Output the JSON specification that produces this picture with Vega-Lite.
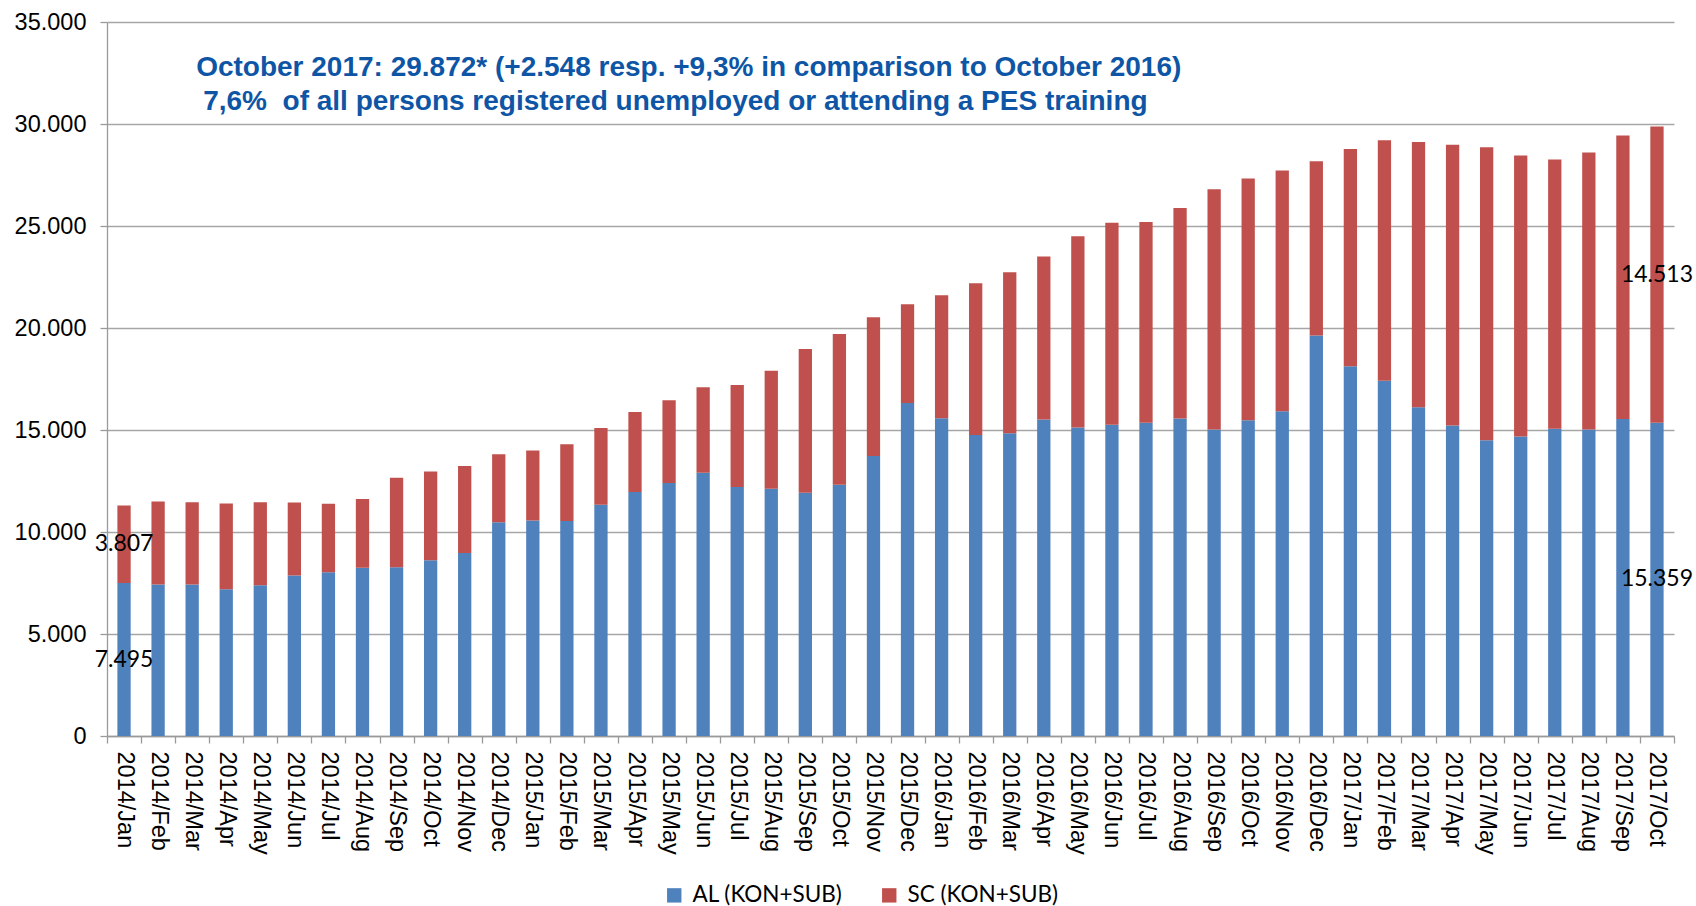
{
  "$schema": "https://vega.github.io/schema/vega-lite/v6.json",
  "width": 1567,
  "height": 714,
  "autosize": {"type": "none"},
  "padding": {"left": 107, "top": 22, "right": 22, "bottom": 170},
  "background": "white",
  "config": {
    "locale": {"number": {"decimal": ",", "thousands": ".", "grouping": [3], "currency": ["", " €"]}},
    "view": {"stroke": null},
    "axis": {
      "labelFont": "Liberation Sans",
      "labelFontSize": 23.5,
      "labelColor": "black",
      "domainColor": "#9a9a9a",
      "tickColor": "#9a9a9a",
      "gridColor": "#a6a6a6",
      "domainWidth": 1.3,
      "tickWidth": 1.3,
      "gridWidth": 1.3,
      "tickSize": 7,
      "title": null
    }
  },
  "data": {"values": [
    {"month": "2014/Jan", "series": "AL (KON+SUB)", "value": 7495}, {"month": "2014/Jan", "series": "SC (KON+SUB)", "value": 3807},
    {"month": "2014/Feb", "series": "AL (KON+SUB)", "value": 7430}, {"month": "2014/Feb", "series": "SC (KON+SUB)", "value": 4070},
    {"month": "2014/Mar", "series": "AL (KON+SUB)", "value": 7430}, {"month": "2014/Mar", "series": "SC (KON+SUB)", "value": 4030},
    {"month": "2014/Apr", "series": "AL (KON+SUB)", "value": 7190}, {"month": "2014/Apr", "series": "SC (KON+SUB)", "value": 4210},
    {"month": "2014/May", "series": "AL (KON+SUB)", "value": 7390}, {"month": "2014/May", "series": "SC (KON+SUB)", "value": 4070},
    {"month": "2014/Jun", "series": "AL (KON+SUB)", "value": 7870}, {"month": "2014/Jun", "series": "SC (KON+SUB)", "value": 3570},
    {"month": "2014/Jul", "series": "AL (KON+SUB)", "value": 8030}, {"month": "2014/Jul", "series": "SC (KON+SUB)", "value": 3350},
    {"month": "2014/Aug", "series": "AL (KON+SUB)", "value": 8250}, {"month": "2014/Aug", "series": "SC (KON+SUB)", "value": 3370},
    {"month": "2014/Sep", "series": "AL (KON+SUB)", "value": 8270}, {"month": "2014/Sep", "series": "SC (KON+SUB)", "value": 4390},
    {"month": "2014/Oct", "series": "AL (KON+SUB)", "value": 8610}, {"month": "2014/Oct", "series": "SC (KON+SUB)", "value": 4350},
    {"month": "2014/Nov", "series": "AL (KON+SUB)", "value": 8970}, {"month": "2014/Nov", "series": "SC (KON+SUB)", "value": 4270},
    {"month": "2014/Dec", "series": "AL (KON+SUB)", "value": 10480}, {"month": "2014/Dec", "series": "SC (KON+SUB)", "value": 3330},
    {"month": "2015/Jan", "series": "AL (KON+SUB)", "value": 10560}, {"month": "2015/Jan", "series": "SC (KON+SUB)", "value": 3440},
    {"month": "2015/Feb", "series": "AL (KON+SUB)", "value": 10540}, {"month": "2015/Feb", "series": "SC (KON+SUB)", "value": 3760},
    {"month": "2015/Mar", "series": "AL (KON+SUB)", "value": 11340}, {"month": "2015/Mar", "series": "SC (KON+SUB)", "value": 3760},
    {"month": "2015/Apr", "series": "AL (KON+SUB)", "value": 11960}, {"month": "2015/Apr", "series": "SC (KON+SUB)", "value": 3920},
    {"month": "2015/May", "series": "AL (KON+SUB)", "value": 12400}, {"month": "2015/May", "series": "SC (KON+SUB)", "value": 4060},
    {"month": "2015/Jun", "series": "AL (KON+SUB)", "value": 12900}, {"month": "2015/Jun", "series": "SC (KON+SUB)", "value": 4190},
    {"month": "2015/Jul", "series": "AL (KON+SUB)", "value": 12200}, {"month": "2015/Jul", "series": "SC (KON+SUB)", "value": 5010},
    {"month": "2015/Aug", "series": "AL (KON+SUB)", "value": 12120}, {"month": "2015/Aug", "series": "SC (KON+SUB)", "value": 5790},
    {"month": "2015/Sep", "series": "AL (KON+SUB)", "value": 11920}, {"month": "2015/Sep", "series": "SC (KON+SUB)", "value": 7050},
    {"month": "2015/Oct", "series": "AL (KON+SUB)", "value": 12320}, {"month": "2015/Oct", "series": "SC (KON+SUB)", "value": 7390},
    {"month": "2015/Nov", "series": "AL (KON+SUB)", "value": 13720}, {"month": "2015/Nov", "series": "SC (KON+SUB)", "value": 6810},
    {"month": "2015/Dec", "series": "AL (KON+SUB)", "value": 16320}, {"month": "2015/Dec", "series": "SC (KON+SUB)", "value": 4850},
    {"month": "2016/Jan", "series": "AL (KON+SUB)", "value": 15580}, {"month": "2016/Jan", "series": "SC (KON+SUB)", "value": 6030},
    {"month": "2016/Feb", "series": "AL (KON+SUB)", "value": 14760}, {"month": "2016/Feb", "series": "SC (KON+SUB)", "value": 7430},
    {"month": "2016/Mar", "series": "AL (KON+SUB)", "value": 14840}, {"month": "2016/Mar", "series": "SC (KON+SUB)", "value": 7890},
    {"month": "2016/Apr", "series": "AL (KON+SUB)", "value": 15520}, {"month": "2016/Apr", "series": "SC (KON+SUB)", "value": 7990},
    {"month": "2016/May", "series": "AL (KON+SUB)", "value": 15120}, {"month": "2016/May", "series": "SC (KON+SUB)", "value": 9380},
    {"month": "2016/Jun", "series": "AL (KON+SUB)", "value": 15260}, {"month": "2016/Jun", "series": "SC (KON+SUB)", "value": 9900},
    {"month": "2016/Jul", "series": "AL (KON+SUB)", "value": 15360}, {"month": "2016/Jul", "series": "SC (KON+SUB)", "value": 9840},
    {"month": "2016/Aug", "series": "AL (KON+SUB)", "value": 15560}, {"month": "2016/Aug", "series": "SC (KON+SUB)", "value": 10320},
    {"month": "2016/Sep", "series": "AL (KON+SUB)", "value": 15020}, {"month": "2016/Sep", "series": "SC (KON+SUB)", "value": 11780},
    {"month": "2016/Oct", "series": "AL (KON+SUB)", "value": 15480}, {"month": "2016/Oct", "series": "SC (KON+SUB)", "value": 11844},
    {"month": "2016/Nov", "series": "AL (KON+SUB)", "value": 15920}, {"month": "2016/Nov", "series": "SC (KON+SUB)", "value": 11800},
    {"month": "2016/Dec", "series": "AL (KON+SUB)", "value": 19630}, {"month": "2016/Dec", "series": "SC (KON+SUB)", "value": 8550},
    {"month": "2017/Jan", "series": "AL (KON+SUB)", "value": 18130}, {"month": "2017/Jan", "series": "SC (KON+SUB)", "value": 10650},
    {"month": "2017/Feb", "series": "AL (KON+SUB)", "value": 17410}, {"month": "2017/Feb", "series": "SC (KON+SUB)", "value": 11790},
    {"month": "2017/Mar", "series": "AL (KON+SUB)", "value": 16120}, {"month": "2017/Mar", "series": "SC (KON+SUB)", "value": 13000},
    {"month": "2017/Apr", "series": "AL (KON+SUB)", "value": 15220}, {"month": "2017/Apr", "series": "SC (KON+SUB)", "value": 13760},
    {"month": "2017/May", "series": "AL (KON+SUB)", "value": 14500}, {"month": "2017/May", "series": "SC (KON+SUB)", "value": 14360},
    {"month": "2017/Jun", "series": "AL (KON+SUB)", "value": 14680}, {"month": "2017/Jun", "series": "SC (KON+SUB)", "value": 13780},
    {"month": "2017/Jul", "series": "AL (KON+SUB)", "value": 15060}, {"month": "2017/Jul", "series": "SC (KON+SUB)", "value": 13200},
    {"month": "2017/Aug", "series": "AL (KON+SUB)", "value": 15020}, {"month": "2017/Aug", "series": "SC (KON+SUB)", "value": 13580},
    {"month": "2017/Sep", "series": "AL (KON+SUB)", "value": 15540}, {"month": "2017/Sep", "series": "SC (KON+SUB)", "value": 13900},
    {"month": "2017/Oct", "series": "AL (KON+SUB)", "value": 15359}, {"month": "2017/Oct", "series": "SC (KON+SUB)", "value": 14513}
  ]},
  "layer": [
    {
      "mark": {"type": "bar", "width": {"band": 0.39}},
      "encoding": {
        "x": {
          "field": "month", "type": "nominal", "sort": null,
          "scale": {"paddingInner": 0, "paddingOuter": 0},
          "axis": {"labelAngle": 90, "tickBand": "extent", "labelPadding": 8, "grid": false}
        },
        "y": {
          "field": "value", "type": "quantitative", "stack": "zero",
          "scale": {"domain": [0, 35000], "nice": false},
          "axis": {"values": [0, 5000, 10000, 15000, 20000, 25000, 30000, 35000], "format": ",d", "labelPadding": 14, "grid": true}
        },
        "color": {
          "field": "series", "type": "nominal",
          "scale": {"domain": ["AL (KON+SUB)", "SC (KON+SUB)"], "range": ["#4F81BD", "#C0504D"]},
          "legend": {
            "orient": "none", "legendX": 556, "legendY": 862, "padding": 0,
            "direction": "horizontal", "title": null,
            "symbolType": "square", "symbolSize": 207, "symbolStrokeWidth": 0,
            "labelFont": "Lato", "labelFontSize": 22.5, "labelColor": "black",
            "labelOffset": 7, "columnPadding": 35
          }
        },
        "order": {"field": "series", "sort": "ascending"}
      }
    },
    {
      "transform": [
        {"stack": "value", "groupby": ["month"], "sort": [{"field": "series", "order": "ascending"}], "as": ["v0", "v1"]},
        {"calculate": "(datum.v0 + datum.v1) / 2", "as": "mid"},
        {"filter": "datum.month == '2014/Jan' || datum.month == '2017/Oct'"}
      ],
      "mark": {"type": "text", "font": "Lato", "fontSize": 23, "color": "black", "align": "center", "baseline": "middle"},
      "encoding": {
        "x": {"field": "month", "type": "nominal", "sort": null},
        "y": {"field": "mid", "type": "quantitative"},
        "text": {"field": "value", "type": "quantitative", "format": ",d"}
      }
    },
    {
      "data": {"values": [{"note": "line1"}]},
      "mark": {
        "type": "text", "font": "Liberation Sans", "fontWeight": "bold", "fontSize": 28,
        "color": "#0E56A5", "align": "left", "baseline": "alphabetic", "dx": 4
      },
      "encoding": {
        "x": {"datum": "2014/Mar"},
        "y": {"datum": 32350},
        "text": {"value": "October 2017: 29.872* (+2.548 resp. +9,3% in comparison to October 2016)"}
      }
    },
    {
      "data": {"values": [{"note": "line2"}]},
      "mark": {
        "type": "text", "font": "Liberation Sans", "fontWeight": "bold", "fontSize": 28,
        "color": "#0E56A5", "align": "left", "baseline": "alphabetic", "dx": 11
      },
      "encoding": {
        "x": {"datum": "2014/Mar"},
        "y": {"datum": 30686},
        "text": {"value": "7,6%\u00a0 of all persons registered unemployed or attending a PES training"}
      }
    }
  ]
}
